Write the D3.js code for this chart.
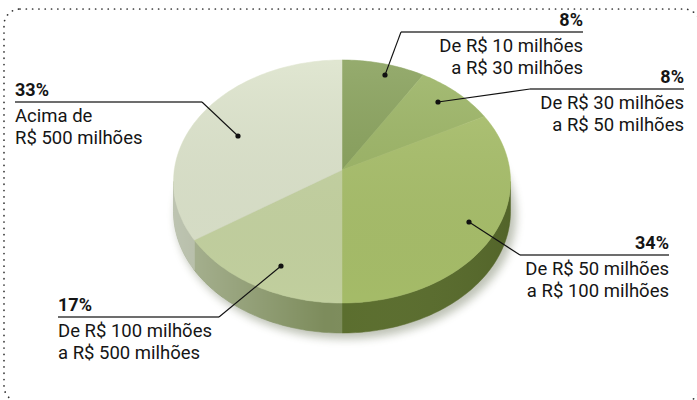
<!DOCTYPE html>
<html>
<head>
<meta charset="utf-8">
<script src="https://cdn.jsdelivr.net/npm/d3@7"></script>
<style>
  html, body { margin: 0; padding: 0; background: #fff; }
  svg { display: block; font-family: Roboto, "Noto Sans", sans-serif; }
</style>
</head>
<body>
<svg id="chart" width="697" height="400"></svg>
<script>
// data, clockwise from 12 o'clock
const values = [8, 8, 34, 17, 33];
const pctLabels = ['8%', '8%', '34%', '17%', '33%'];
const labelLine1 = ['De R$ 10 milhões', 'De R$ 30 milhões', 'De R$ 50 milhões', 'De R$ 100 milhões', 'Acima de'];
const labelLine2 = ['a R$ 30 milhões', 'a R$ 50 milhões', 'a R$ 100 milhões', 'a R$ 500 milhões', 'R$ 500 milhões'];

// styling / layout (not data)
const topColors = ['#87a05a', '#9bb464', '#a8bf6a', '#c5d3a1', '#dce3cb'];
const wallColors = ['#55682b', '#5f722f', '#5a6d2d', '#7d8c5c', '#9aa487'];

// callout layout: dot, elbow, underline end, text anchor side
const callouts = [
  { dot: [385, 75],  elbow: [401, 32],  end: 583, side: 'right', y: 32 },
  { dot: [438, 102], elbow: [530, 89],  end: 684, side: 'right', y: 89 },
  { dot: [469, 222], elbow: [520, 255], end: 669, side: 'right', y: 255 },
  { dot: [281, 266], elbow: [219, 317], end: 58,  side: 'left',  y: 317 },
  { dot: [238, 136], elbow: [202, 102], end: 15,  side: 'left',  y: 102 }
];

const svg = d3.select('#chart');
const cx = 342, cy = 181.5, rx = 168.5, ry = 121.5, depth = 30;
const apex = [342, 170];

const defs = svg.append('defs');
defs.append('filter').attr('id', 'blur')
  .attr('x', '-20%').attr('y', '-20%').attr('width', '140%').attr('height', '140%')
  .append('feGaussianBlur').attr('stdDeviation', 4);

const wallShade = defs.append('linearGradient').attr('id', 'wallShade')
  .attr('x1', 0).attr('x2', 1).attr('y1', 0).attr('y2', 0);
wallShade.append('stop').attr('offset', '0%').attr('stop-color', '#fff').attr('stop-opacity', 0.35);
wallShade.append('stop').attr('offset', '45%').attr('stop-color', '#fff').attr('stop-opacity', 0);
wallShade.append('stop').attr('offset', '100%').attr('stop-color', '#000').attr('stop-opacity', 0.08);

const topShade = defs.append('linearGradient').attr('id', 'topShade')
  .attr('x1', 0).attr('x2', 0).attr('y1', 0).attr('y2', 1);
topShade.append('stop').attr('offset', '0%').attr('stop-color', '#fff').attr('stop-opacity', 0.12);
topShade.append('stop').attr('offset', '100%').attr('stop-color', '#000').attr('stop-opacity', 0.02);

// dotted frame (rounded rect running slightly past the right and bottom edges)
svg.append('rect')
  .attr('x', 4).attr('y', 9)
  .attr('width', 696).attr('height', 393)
  .attr('rx', 16).attr('ry', 16)
  .attr('fill', 'none')
  .attr('stroke', '#333')
  .attr('stroke-width', 1.7)
  .attr('stroke-linecap', 'round')
  .attr('stroke-dasharray', '0.1 6.2');

const pie = d3.pie().sort(null).value(d => d)
  .startAngle(0).endAngle(2 * Math.PI);
const arcs = pie(values);

const px = a => cx + rx * Math.sin(a);
const py = (a, off) => cy - ry * Math.cos(a) + (off || 0);

const angleStep = d3.scaleLinear().range([0, 1]);

function arcPoints(a0, a1, off) {
  const n = Math.max(2, Math.ceil((a1 - a0) / 0.02));
  angleStep.domain([0, n]);
  return d3.range(n + 1).map(i => {
    const a = a0 + (a1 - a0) * angleStep(i);
    return [px(a), py(a, off)];
  });
}

const line = d3.line();

// soft shadow beneath
svg.append('ellipse')
  .attr('cx', cx + 4).attr('cy', cy + depth + 4)
  .attr('rx', rx + 2).attr('ry', ry + 2)
  .attr('fill', '#4a5530').attr('opacity', 0.35)
  .attr('filter', 'url(#blur)');

// walls (front half only)
const wallG = svg.append('g');
arcs.forEach((d, i) => {
  const a0 = Math.max(d.startAngle, Math.PI / 2);
  const a1 = Math.min(d.endAngle, 3 * Math.PI / 2);
  if (a1 <= a0) return;
  const topPts = arcPoints(a0, a1, 0);
  const botPts = arcPoints(a0, a1, depth).reverse();
  wallG.append('path')
    .attr('d', line(topPts.concat(botPts)) + 'Z')
    .attr('fill', wallColors[i])
    .attr('stroke', wallColors[i])
    .attr('stroke-width', 0.5);
});
wallG.append('path')
  .attr('d', line(arcPoints(Math.PI / 2, 3 * Math.PI / 2, 0)
    .concat(arcPoints(Math.PI / 2, 3 * Math.PI / 2, depth).reverse())) + 'Z')
  .attr('fill', 'url(#wallShade)');

// top faces
const topG = svg.append('g');
arcs.forEach((d, i) => {
  const pts = [apex].concat(arcPoints(d.startAngle, d.endAngle, 0));
  topG.append('path')
    .attr('d', line(pts) + 'Z')
    .attr('fill', topColors[i])
    .attr('stroke', topColors[i])
    .attr('stroke-width', 0.5)
    .attr('stroke-linejoin', 'round');
});
topG.append('ellipse')
  .attr('cx', cx).attr('cy', cy).attr('rx', rx).attr('ry', ry)
  .attr('fill', 'url(#topShade)');

// callouts
const labG = svg.append('g');
callouts.forEach((c, i) => {
  const left = c.side === 'left';
  const x0 = c.elbow[0], x1 = c.end;
  labG.append('line')
    .attr('x1', Math.min(x0, x1)).attr('x2', Math.max(x0, x1))
    .attr('y1', c.y).attr('y2', c.y)
    .attr('stroke', '#3c3c3c').attr('stroke-width', 1.6);
  labG.append('path')
    .attr('d', line([c.dot, c.elbow]))
    .attr('fill', 'none').attr('stroke', '#111').attr('stroke-width', 1.1);
  labG.append('circle')
    .attr('cx', c.dot[0]).attr('cy', c.dot[1]).attr('r', 2.6)
    .attr('fill', '#111');

  const tx = left ? Math.min(x0, x1) : Math.max(x0, x1);
  const anchor = left ? 'start' : 'end';
  labG.append('text')
    .attr('x', tx).attr('y', c.y - 6)
    .attr('text-anchor', anchor)
    .attr('font-size', 18).attr('font-weight', 700)
    .attr('fill', '#151515')
    .text(pctLabels[i]);
  labG.append('text')
    .attr('x', tx).attr('y', c.y + 20)
    .attr('text-anchor', anchor)
    .attr('font-size', 18.5)
    .attr('fill', '#151515')
    .text(labelLine1[i]);
  labG.append('text')
    .attr('x', tx).attr('y', c.y + 42)
    .attr('text-anchor', anchor)
    .attr('font-size', 18.5)
    .attr('fill', '#151515')
    .text(labelLine2[i]);
});
</script>
</body>
</html>
